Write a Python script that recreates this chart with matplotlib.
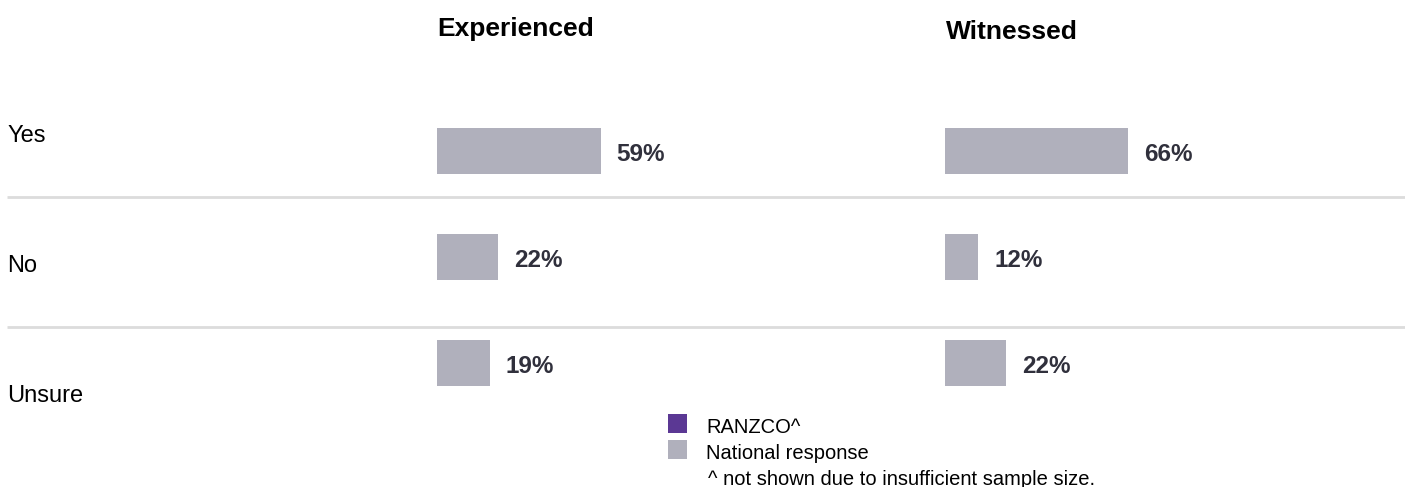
import matplotlib.pyplot as plt
from matplotlib.patches import Rectangle

# data
categories = ["Yes", "No", "Unsure"]
panels = ["Experienced", "Witnessed"]
national_experienced = [59, 22, 19]
national_witnessed = [66, 12, 22]
legend_labels = ["RANZCO^", "National response"]
footnote = "^ not shown due to insufficient sample size."

W, H = 1405, 487
DPI = 100
BAR_COLOR = "#B0B0BC"
RANZCO_COLOR = "#5B3894"
VALUE_COLOR = "#30303C"
LINE_COLOR = "#DCDCDC"
FONT = "Liberation Sans"

plt.rcParams["font.family"] = [FONT, "DejaVu Sans"]

fig = plt.figure(figsize=(W / DPI, H / DPI), dpi=DPI)

# background axes in pixel coordinates for layout elements
bg = fig.add_axes([0, 0, 1, 1])
bg.set_xlim(0, W)
bg.set_ylim(H, 0)
bg.axis("off")


def fx(px):
    return px / W


def fy(py):
    return 1 - py / H


# separators between rows
for y in (197, 327):
    bg.plot([7, W], [y, y], color=LINE_COLOR, lw=2, solid_capstyle="butt")

# row labels
for label, base in zip(categories, (142, 272, 402)):
    bg.text(7, base, label, fontsize=17, va="baseline", ha="left", color="black")

# panel titles
bg.text(437, 36, panels[0], fontsize=19, fontweight="bold", va="baseline", ha="left")
bg.text(946, 39, panels[1], fontsize=19, fontweight="bold", va="baseline", ha="left")

# bar panels
PX_PER_PCT = 2.775
bar_top, bar_bottom = 98, 416
for left_px, values in ((437, national_experienced), (945, national_witnessed)):
    ax = fig.add_axes([fx(left_px), fy(bar_bottom), fx(100 * PX_PER_PCT), (bar_bottom - bar_top) / H])
    ax.set_xlim(0, 100)
    ax.set_ylim(len(categories) - 0.5, -0.5)
    ax.axis("off")
    pos = list(range(len(categories)))
    ax.barh(pos, values, height=46 / 106, color=BAR_COLOR, edgecolor="none")
    for p, v in zip(pos, values):
        ax.annotate(f"{v}%", xy=(v, p), xytext=(16 * 72 / DPI, -10 * 72 / DPI),
                    textcoords="offset points", fontsize=17.5, fontweight="bold",
                    color=VALUE_COLOR, va="baseline", ha="left")

# legend
for (y, color, label) in ((414, RANZCO_COLOR, legend_labels[0]), (440, BAR_COLOR, legend_labels[1])):
    bg.add_patch(Rectangle((668, y), 19, 19, facecolor=color, edgecolor="none"))
    bg.text(706, y + 19, label, fontsize=14.5, va="baseline", ha="left", color="black")

bg.text(708, 485, footnote, fontsize=14.5, va="baseline", ha="left", color="black")

fig.savefig("out.png", dpi=DPI)
